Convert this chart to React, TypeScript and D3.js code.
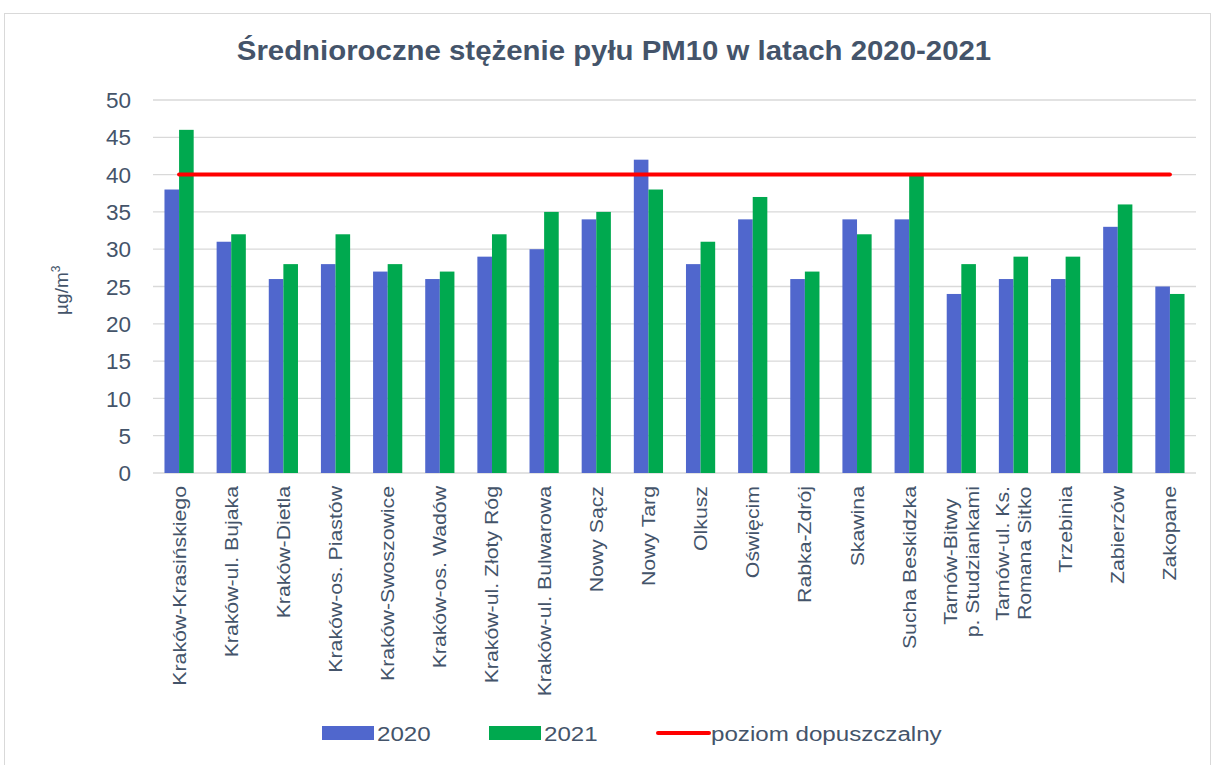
import React, { useEffect, useRef } from 'react';
import * as d3 from 'd3';

const categories = [
  'Kraków-Krasińskiego',
  'Kraków-ul. Bujaka',
  'Kraków-Dietla',
  'Kraków-os. Piastów',
  'Kraków-Swoszowice',
  'Kraków-os. Wadów',
  'Kraków-ul. Złoty Róg',
  'Kraków-ul. Bulwarowa',
  'Nowy Sącz',
  'Nowy Targ',
  'Olkusz',
  'Oświęcim',
  'Rabka-Zdrój',
  'Skawina',
  'Sucha Beskidzka',
  'Tarnów-Bitwy\np. Studziankami',
  'Tarnów-ul. Ks.\nRomana Sitko',
  'Trzebinia',
  'Zabierzów',
  'Zakopane',
];

const values2020 = [38, 31, 26, 28, 27, 26, 29, 30, 34, 42, 28, 34, 26, 34, 34, 24, 26, 26, 33, 25];
const values2021 = [46, 32, 28, 32, 28, 27, 32, 35, 35, 38, 31, 37, 27, 32, 40, 28, 29, 29, 36, 24];
const limitValue = 40;

const seriesNames = ['2020', '2021'];
const yTicks = [0, 5, 10, 15, 20, 25, 30, 35, 40, 45, 50];

const title = 'Średnioroczne stężenie pyłu PM10 w latach 2020-2021';
const limitLabel = 'poziom dopuszczalny';

const BLUE = '#5067CD';
const GREEN = '#00A94F';
const RED = '#FF0000';
const TEXT = '#44546A';
const GRID = '#D9D9D9';

const App: React.FC = () => {
  const svgRef = useRef<SVGSVGElement>(null);

  useEffect(() => {
    if (!svgRef.current) return;
    const width = 1214;
    const height = 765;
    const margin = { top: 100, right: 18, bottom: 292, left: 153 };

    const svg = d3.select(svgRef.current);
    svg.selectAll('*').remove();
    svg.style('font-family', '"Liberation Sans", Arial, sans-serif');

    // frame
    svg.append('rect')
      .attr('x', 4.5).attr('y', 13.5)
      .attr('width', 1206).attr('height', 770)
      .attr('fill', 'white').attr('stroke', GRID);

    const x = d3.scaleBand<string>()
      .domain(categories)
      .range([margin.left, width - margin.right])
      .paddingInner(0.44)
      .paddingOuter(0.22);

    const xSub = d3.scaleBand<string>()
      .domain(seriesNames)
      .range([0, x.bandwidth()]);

    const y = d3.scaleLinear()
      .domain([0, 50])
      .range([height - margin.bottom, margin.top]);

    // Grid
    svg.append('g')
      .selectAll('line')
      .data(yTicks)
      .join('line')
      .attr('x1', margin.left)
      .attr('x2', width - margin.right)
      .attr('y1', d => y(d))
      .attr('y2', d => y(d))
      .attr('stroke', GRID)
      .attr('stroke-width', 1.3);

    // Y axis labels
    svg.append('g')
      .selectAll('text')
      .data(yTicks)
      .join('text')
      .attr('x', 131)
      .attr('y', d => y(d))
      .attr('dy', '0.36em')
      .attr('text-anchor', 'end')
      .attr('fill', TEXT)
      .attr('font-size', 22.5)
      .text(d => d);

    // Y axis title
    const yt = svg.append('text')
      .attr('transform', `translate(68,${y(24.5)}) rotate(-90)`)
      .attr('text-anchor', 'middle')
      .attr('fill', TEXT)
      .attr('font-size', 19);
    yt.append('tspan').text('µg/m');
    yt.append('tspan').attr('font-size', 12).attr('dy', -8).text('3');

    // Bars
    const seriesData = [values2020, values2021];
    const colors = [BLUE, GREEN];
    seriesData.forEach((vals, si) => {
      svg.append('g')
        .selectAll('rect')
        .data(vals)
        .join('rect')
        .attr('x', (_, i) => (x(categories[i]) as number) + (xSub(seriesNames[si]) as number))
        .attr('width', xSub.bandwidth())
        .attr('y', d => y(d))
        .attr('height', d => y(0) - y(d))
        .attr('fill', colors[si]);
    });

    // Limit line
    const line = d3.line<string>()
      .x(c => (x(c) as number) + x.bandwidth() / 2)
      .y(() => y(limitValue));
    svg.append('path')
      .datum(categories)
      .attr('fill', 'none')
      .attr('stroke', RED)
      .attr('stroke-width', 4)
      .attr('stroke-linecap', 'round')
      .attr('d', line);

    // X labels
    const labelTop = 486;
    const lineGap = 22;
    const stretch = 1.15;
    categories.forEach(c => {
      const lines = c.split('\n');
      const cx = (x(c) as number) + x.bandwidth() / 2;
      const g = svg.append('g')
        .attr('transform', `translate(${cx},${labelTop}) rotate(-90) scale(${stretch},1)`);
      const texts = lines.map((ln, li) => g.append('text')
        .attr('x', 0)
        .attr('y', (li - (lines.length - 1) / 2) * lineGap)
        .attr('dy', '0.35em')
        .attr('fill', TEXT)
        .attr('font-size', 18.5)
        .text(ln));
      const widths = texts.map(t => (t.node() as SVGTextElement).getComputedTextLength());
      const maxW = Math.max(...widths);
      texts.forEach(t => t.attr('x', -maxW / 2).attr('text-anchor', 'middle'));
    });

    // Title
    svg.append('text')
      .attr('x', 614)
      .attr('y', 60)
      .attr('text-anchor', 'middle')
      .attr('fill', TEXT)
      .attr('font-size', 28)
      .attr('font-weight', 'bold')
      .attr('transform', 'translate(614,0) scale(1.05,1) translate(-614,0)')
      .text(title);

    // Legend
    const legendY = 733;
    const lg = svg.append('g');
    const legendItems = [
      { label: seriesNames[0], color: BLUE, kind: 'rect', x: 322 },
      { label: seriesNames[1], color: GREEN, kind: 'rect', x: 489 },
      { label: limitLabel, color: RED, kind: 'line', x: 656 },
    ];
    legendItems.forEach(it => {
      if (it.kind === 'rect') {
        lg.append('rect')
          .attr('x', it.x).attr('y', legendY - 7)
          .attr('width', 52).attr('height', 14)
          .attr('fill', it.color);
      } else {
        lg.append('line')
          .attr('x1', it.x + 2).attr('x2', it.x + 53)
          .attr('y1', legendY).attr('y2', legendY)
          .attr('stroke', it.color).attr('stroke-width', 4)
          .attr('stroke-linecap', 'round');
      }
      lg.append('text')
        .attr('transform', `translate(${it.x + 55},${legendY}) scale(1.15,1)`)
        .attr('dy', '0.36em')
        .attr('fill', TEXT)
        .attr('font-size', 21)
        .text(it.label);
    });
  }, []);

  return (
    <svg
      ref={svgRef}
      width={1214}
      height={765}
      style={{ position: 'absolute', left: 0, top: 0, background: 'white' }}
    />
  );
};

export default App;
